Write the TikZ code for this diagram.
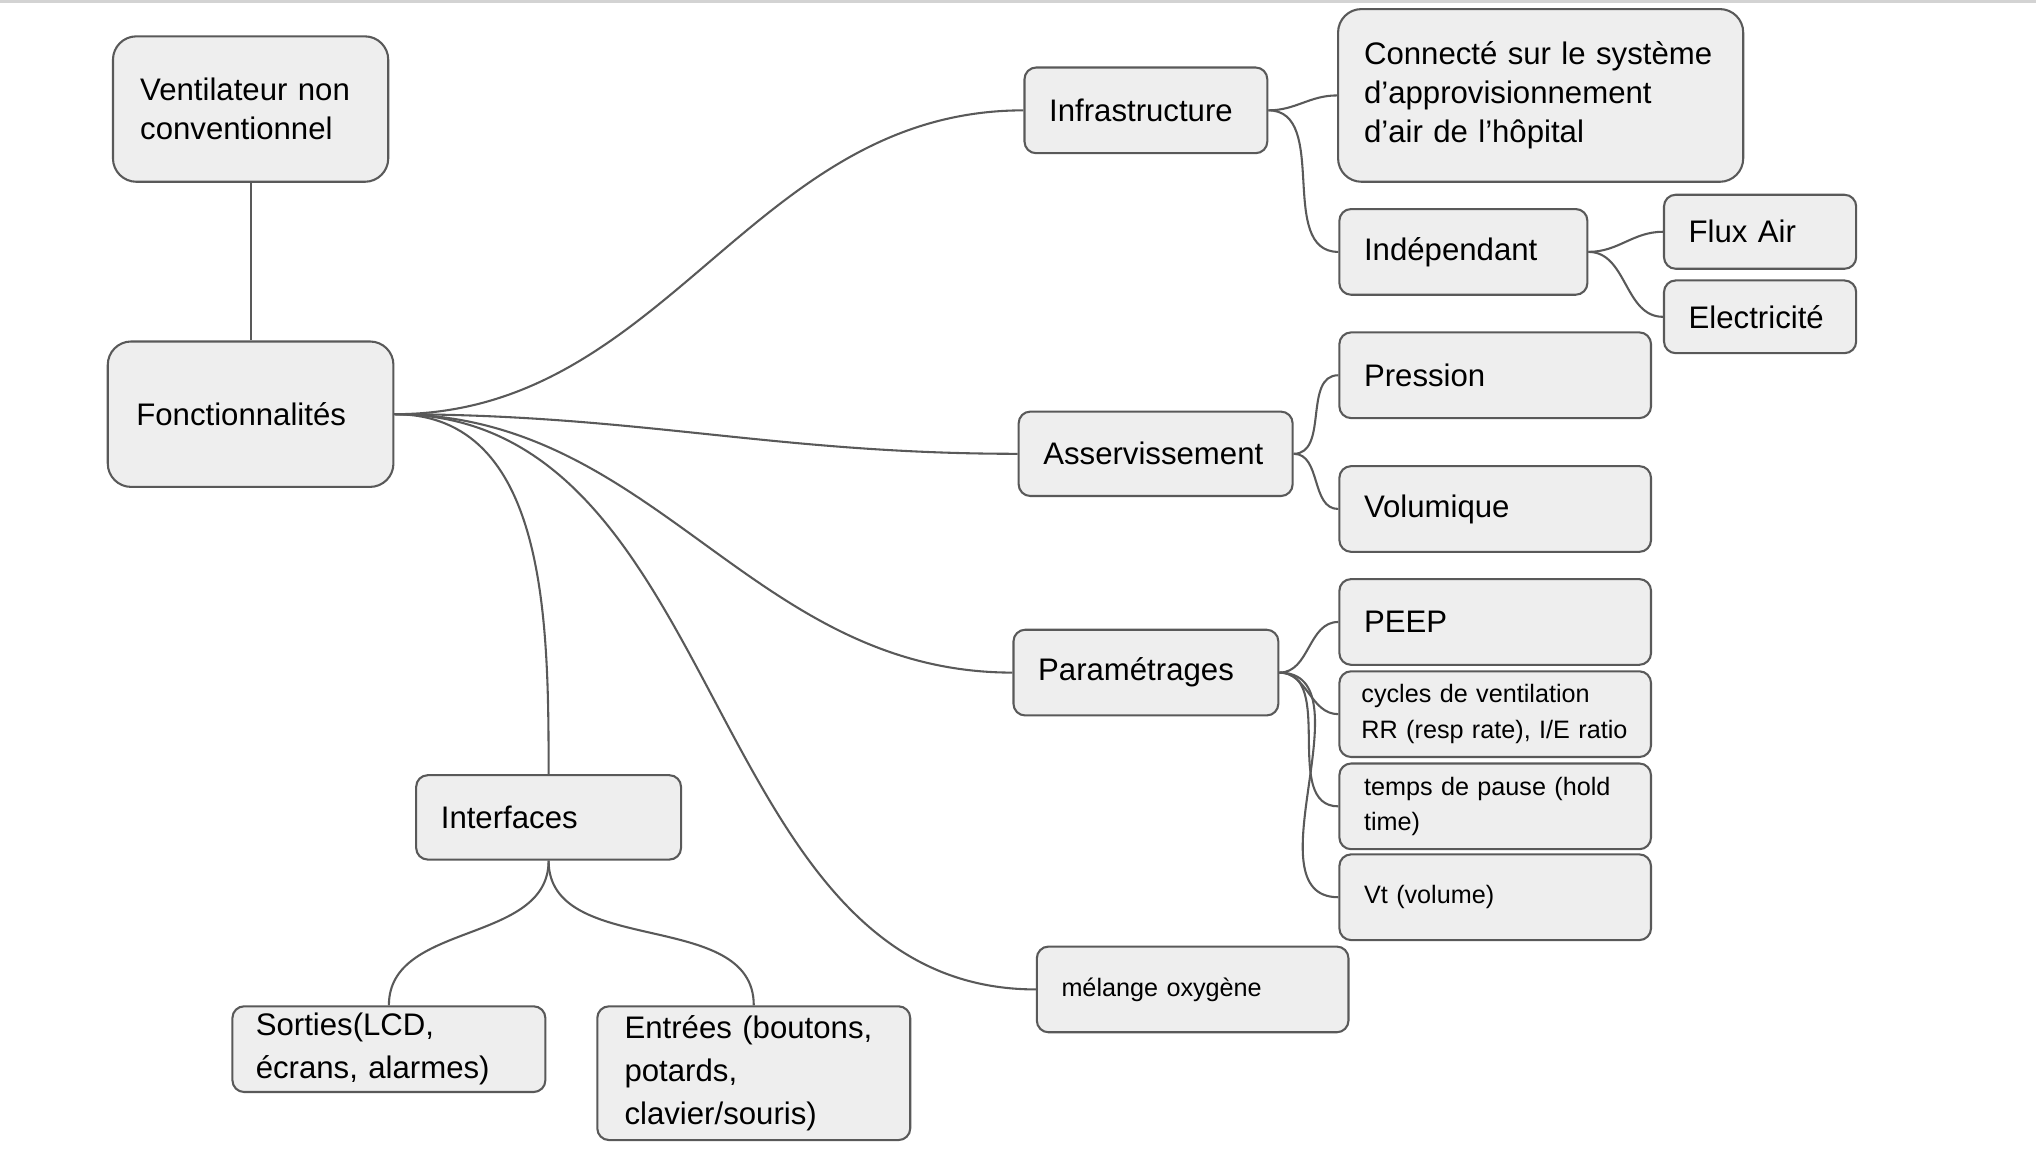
\documentclass[tikz,border=0pt]{standalone}
\usepackage{fontspec}
\setmainfont{Liberation Sans}
\usetikzlibrary{positioning}
\definecolor{boxgray}{HTML}{EEEEEE}
\definecolor{linegray}{HTML}{595959}
\definecolor{rulegray}{HTML}{D3D3D3}
\tikzset{
    mybox/.style 2 args = {rectangle, draw=linegray, fill=boxgray, line width=0.8pt, rounded corners=4.5pt,
        inner xsep=9.5pt, inner ysep=0pt, text width=#1, minimum height=#2, align=left,
        font=\fontsize{12}{15}\selectfont},
    mybig/.style = {rounded corners=9pt},
    mysmall/.style = {font=\fontsize{9.7}{13.75}\selectfont},
    edgec/.style = {line width=0.8pt, draw=linegray},
    topline/.style = {line width=1pt, draw=rulegray}
}
\begin{document}
\begin{tikzpicture}[x=0.5pt,y=-0.5pt]
\useasboundingbox (0,0) rectangle (1568,886);
\draw[topline] (0,1) -- (1568,1);
% left column
\node[mybox={85pt}{56pt},mybig,inner xsep=10.5pt] at (193, 84) (vent) {Ventilateur non\\conventionnel};
\node[mybox={88pt}{56pt},mybig,inner xsep=11pt] at (193, 319) (fonc) {Fonctionnalités};
\node[mybox={83pt}{32.5pt}] at (422.5, 629.5) (interf) {Interfaces};
\node[mybox={102.5pt}{33pt},inner xsep=9pt,font=\fontsize{12}{16.5}\selectfont] at (299.5, 808) (sorties) {Sorties(LCD,\\écrans, alarmes)};
\node[mybox={99.5pt}{51.5pt},inner xsep=10.5pt,font=\fontsize{12}{16.5}\selectfont] at (580.5, 826.5) (entrees) {Entrées (boutons,\\potards,\\clavier/souris)};
% middle column
\node[mybox={74.5pt}{33pt}] at (882.5, 85) (infra) {Infrastructure};
\node[mybox={86.5pt}{32.5pt}] at (890, 349.5) (asserv) {Asservissement};
\node[mybox={83pt}{33pt}] at (882.5, 518) (param) {Paramétrages};
\node[mybox={101pt}{33pt},mysmall] at (918.5, 762) (melange) {mélange oxygène};
% right column
\node[mybox={136pt}{66.5pt},mybig,inner xsep=10pt] at (1186.5, 73.5) (conn) {\mbox{Connecté sur le système}\\d’approvisionnement\\d’air de l’hôpital};
\node[mybox={76.5pt}{33pt}] at (1127, 194) (indep) {Indépendant};
\node[mybox={55pt}{28.5pt}] at (1355.5, 178.5) (flux) {Flux Air};
\node[mybox={55pt}{28pt}] at (1355.5, 244) (elec) {Electricité};
\node[mybox={101pt}{33pt}] at (1151.5, 289) (pression) {Pression};
\node[mybox={101pt}{33pt}] at (1151.5, 392) (volum) {Volumique};
\node[mybox={101pt}{33pt}] at (1151.5, 479) (peep) {PEEP};
\node[mybox={103pt}{33pt},mysmall,inner xsep=8.5pt] at (1151.5, 550) (cycles) {cycles de ventilation\\RR (resp rate), I/E ratio};
\node[mybox={101pt}{33pt},mysmall] at (1151.5, 621) (temps) {temps de pause (hold\\time)};
\node[mybox={101pt}{33pt},mysmall] at (1151.5, 691) (vt) {Vt (volume)};
%
\draw[edgec] (vent.south) -- (fonc.north);
\draw[edgec] (fonc.east) to[out=0,in=180] (infra.west);
\draw[edgec] (fonc.east) to[out=0,in=180] (asserv.west);
\draw[edgec] (fonc.east) to[out=0,in=180] (param.west);
\draw[edgec] (fonc.east) to[out=0,in=180] (melange.west);
\draw[edgec] (fonc.east) to[out=0,in=90] (interf.north);
\draw[edgec] (interf.south) to[out=-90,in=90] (sorties.north);
\draw[edgec] (interf.south) to[out=-90,in=90] (entrees.north);
\draw[edgec] (infra.east) to[out=0,in=180] (conn.west);
\draw[edgec] (infra.east) to[out=0,in=180] (indep.west);
\draw[edgec] (indep.east) to[out=0,in=180] (flux.west);
\draw[edgec] (indep.east) to[out=0,in=180] (elec.west);
\draw[edgec] (asserv.east) to[out=0,in=180] (pression.west);
\draw[edgec] (asserv.east) to[out=0,in=180] (volum.west);
\draw[edgec] (param.east) to[out=0,in=180] (peep.west);
\draw[edgec] (param.east) to[out=0,in=180] (cycles.west);
\draw[edgec] (param.east) to[out=0,in=180] (temps.west);
\draw[edgec] (param.east) to[out=0,in=180] (vt.west);
\end{tikzpicture}
\end{document}
